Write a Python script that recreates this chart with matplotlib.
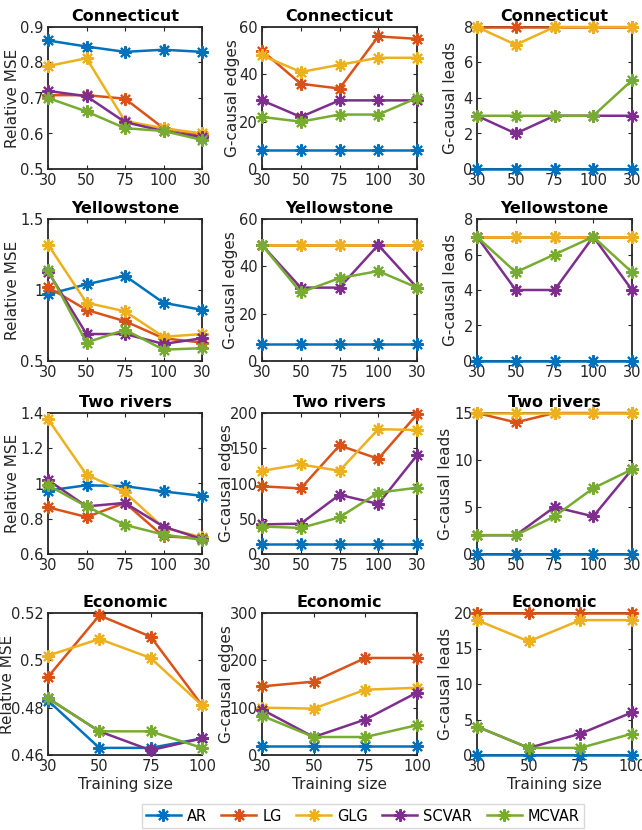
import matplotlib
matplotlib.use('Agg')
import matplotlib.pyplot as plt
import numpy as np
from matplotlib.lines import Line2D

METHODS = ['AR', 'LG', 'GLG', 'SCVAR', 'MCVAR']
COLORS = ['#0072BD', '#D95319', '#EDB120', '#7E2F8E', '#77AC30']

DATASETS = ['Connecticut', 'Yellowstone', 'Two rivers', 'Economic']
XLABELS_5 = ['30', '50', '75', '100', '30']
XLABELS_4 = ['30', '50', '75', '100']

# ---- Connecticut ----
ct_mse = [[0.862, 0.845, 0.830, 0.836, 0.830],
          [0.708, 0.708, 0.698, 0.615, 0.595],
          [0.790, 0.812, 0.635, 0.615, 0.600],
          [0.720, 0.705, 0.632, 0.607, 0.590],
          [0.700, 0.662, 0.615, 0.607, 0.582]]
ct_edges = [[8, 8, 8, 8, 8],
            [50, 36, 34, 56, 55],
            [48, 41, 44, 47, 47],
            [29, 22, 29, 29, 29],
            [22, 20, 23, 23, 30]]
ct_leads = [[0, 0, 0, 0, 0],
            [8, 8, 8, 8, 8],
            [8, 7, 8, 8, 8],
            [3, 2, 3, 3, 3],
            [3, 3, 3, 3, 5]]

# ---- Yellowstone ----
ys_mse = [[0.97, 1.04, 1.10, 0.91, 0.86],
          [1.02, 0.86, 0.78, 0.66, 0.63],
          [1.32, 0.91, 0.85, 0.67, 0.69],
          [1.13, 0.69, 0.69, 0.62, 0.66],
          [1.14, 0.63, 0.72, 0.58, 0.59]]
ys_edges = [[7, 7, 7, 7, 7],
            [49, 49, 49, 49, 49],
            [49, 49, 49, 49, 49],
            [49, 31, 31, 49, 31],
            [49, 29, 35, 38, 31]]
ys_leads = [[0, 0, 0, 0, 0],
            [7, 7, 7, 7, 7],
            [7, 7, 7, 7, 7],
            [7, 4, 4, 7, 4],
            [7, 5, 6, 7, 5]]

# ---- Two rivers ----
tr_mse = [[0.960, 0.990, 0.985, 0.955, 0.930],
          [0.865, 0.810, 0.890, 0.700, 0.690],
          [1.365, 1.050, 0.950, 0.750, 0.695],
          [1.020, 0.870, 0.890, 0.755, 0.685],
          [0.990, 0.870, 0.765, 0.710, 0.680]]
tr_edges = [[14, 14, 14, 14, 14],
            [96, 93, 154, 135, 198],
            [118, 127, 118, 177, 176],
            [42, 43, 84, 71, 140],
            [39, 37, 52, 87, 94]]
tr_leads = [[0, 0, 0, 0, 0],
            [15, 14, 15, 15, 15],
            [15, 15, 15, 15, 15],
            [2, 2, 5, 4, 9],
            [2, 2, 4, 7, 9]]

# ---- Economic ----
ec_mse = [[0.483, 0.463, 0.463, 0.467],
          [0.493, 0.519, 0.510, 0.481],
          [0.502, 0.509, 0.501, 0.481],
          [0.484, 0.470, 0.462, 0.467],
          [0.484, 0.470, 0.470, 0.463]]
ec_edges = [[18, 18, 18, 18],
            [145, 155, 205, 205],
            [100, 98, 138, 142],
            [96, 38, 75, 132],
            [83, 38, 38, 63]]
ec_leads = [[0, 0, 0, 0],
            [20, 20, 20, 20],
            [19, 16, 19, 19],
            [4, 1, 3, 6],
            [4, 1, 1, 3]]

PANELS = [
    [(ct_mse, (0.5, 0.9), [0.5, 0.6, 0.7, 0.8, 0.9], ['0.5', '0.6', '0.7', '0.8', '0.9']),
     (ct_edges, (0, 60), [0, 20, 40, 60], None),
     (ct_leads, (0, 8), [0, 2, 4, 6, 8], None)],
    [(ys_mse, (0.5, 1.5), [0.5, 1, 1.5], ['0.5', '1', '1.5']),
     (ys_edges, (0, 60), [0, 20, 40, 60], None),
     (ys_leads, (0, 8), [0, 2, 4, 6, 8], None)],
    [(tr_mse, (0.6, 1.4), [0.6, 0.8, 1, 1.2, 1.4], ['0.6', '0.8', '1', '1.2', '1.4']),
     (tr_edges, (0, 200), [0, 50, 100, 150, 200], None),
     (tr_leads, (0, 15), [0, 5, 10, 15], None)],
    [(ec_mse, (0.46, 0.52), [0.46, 0.48, 0.5, 0.52], ['0.46', '0.48', '0.5', '0.52']),
     (ec_edges, (0, 300), [0, 100, 200, 300], None),
     (ec_leads, (0, 20), [0, 5, 10, 15, 20], None)],
]
YLABELS = ['Relative MSE', 'G-causal edges', 'G-causal leads']

plt.rcParams['font.family'] = ['DejaVu Sans']
TXT = '#262626'
ASTERISK = (8, 2, 0)   # MATLAB-style '*' marker

W, H = 642, 830
fig = plt.figure(figsize=(W / 100, H / 100), dpi=100)

col_x = [(48, 202), (262, 417), (477, 632)]
row_y = [(27, 169), (219, 361), (413, 554), (613, 755)]
# px from the axes' left edge to the right edge of each y-label (MATLAB overlaps them)
ylab_off = [[28, 22, 19], [28, 24, 19], [28, 28, 24], [33, 28, 24]]

for r, row in enumerate(PANELS):
    for c, (data, ylim, yticks, ytl) in enumerate(row):
        x0, x1 = col_x[c]
        y0, y1 = row_y[r]
        ax = fig.add_axes([x0 / W, 1 - y1 / H, (x1 - x0) / W, (y1 - y0) / H])
        labels = XLABELS_4 if r == 3 else XLABELS_5
        xs = np.arange(1, len(labels) + 1)
        for vals, col in zip(data, COLORS):
            ax.plot(xs, vals, '-', marker=ASTERISK, color=col, lw=1.8, ms=9,
                    mew=1.5, clip_on=False, zorder=3)
        ax.set_xlim(1, len(labels))
        ax.set_ylim(*ylim)
        ax.set_xticks(xs)
        ax.set_xticklabels(labels)
        ax.set_yticks(yticks)
        if ytl is not None:
            ax.set_yticklabels(ytl)
        ax.tick_params(direction='in', length=3, labelsize=10.5, colors=TXT,
                       top=True, right=True, pad=3)
        for s in ax.spines.values():
            s.set_color(TXT)
            s.set_linewidth(1.3)
        ax.set_ylabel(YLABELS[c], fontsize=11, color=TXT)
        ax.yaxis.set_label_coords(-ylab_off[r][c] / (x1 - x0), 0.5)
        ax.set_title(DATASETS[r], fontsize=11.5, fontweight='bold', pad=4)
        if r == 3:
            ax.set_xlabel('Training size', fontsize=11, color=TXT, labelpad=2)

handles = [Line2D([], [], color=col, marker=ASTERISK, lw=1.8, ms=9, mew=1.5)
           for col in COLORS]
fig.legend(handles, METHODS, loc='center', bbox_to_anchor=(0.565, 1 - 816 / H),
           ncol=5, frameon=True, fontsize=10.5, handlelength=2.4,
           columnspacing=1.0, handletextpad=0.4, borderpad=0.3,
           edgecolor='#d0d0d0', fancybox=False)

fig.savefig('out.png', dpi=100)
